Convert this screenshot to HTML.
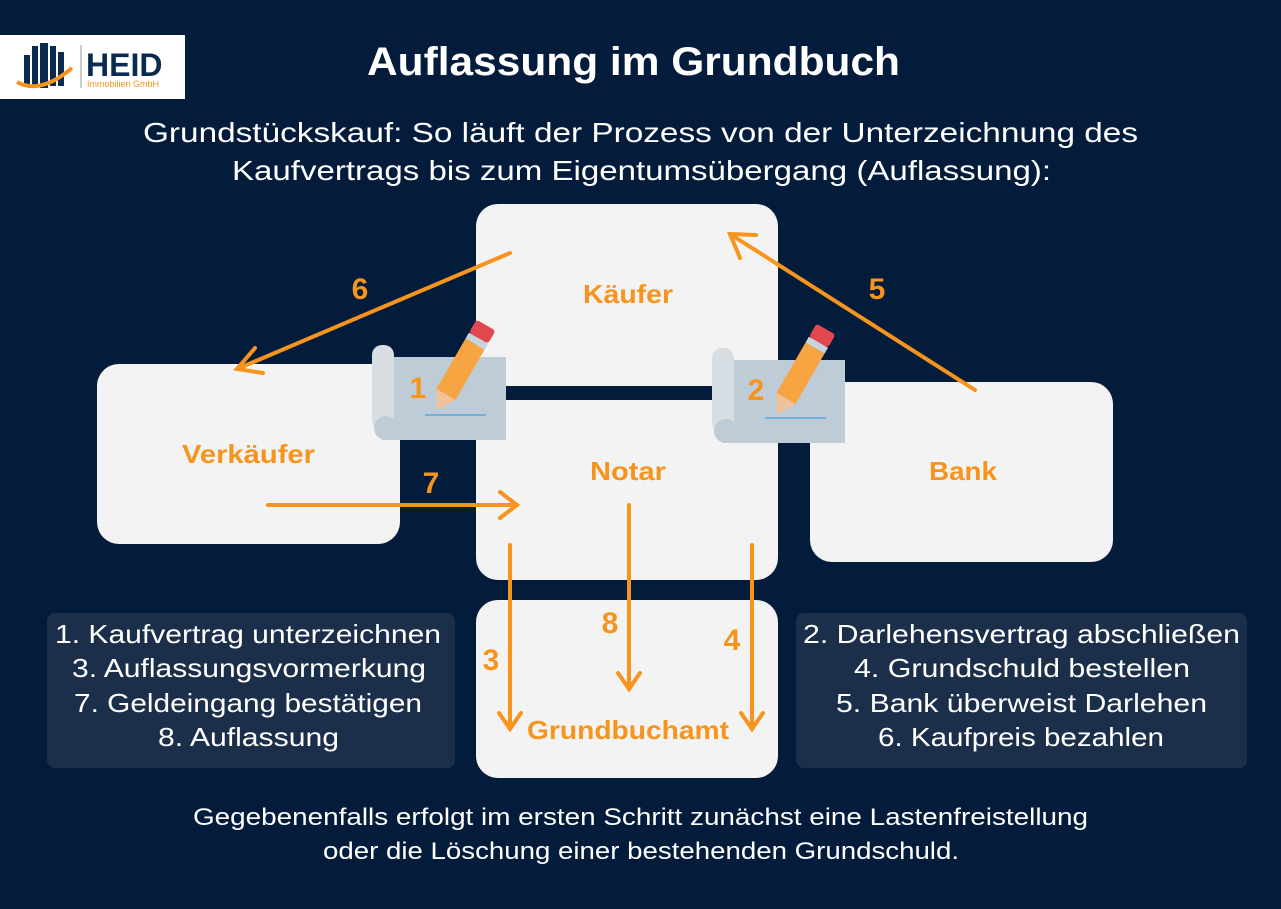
<!DOCTYPE html>
<html><head><meta charset="utf-8"><style>
body{margin:0;width:1281px;height:909px;background:#041c3c;overflow:hidden;font-family:"Liberation Sans",sans-serif}
</style></head><body>
<svg width="1281" height="909" xmlns="http://www.w3.org/2000/svg" style="position:absolute;left:0;top:0">
<rect width="1281" height="909" fill="#041c3c"/>
<!-- logo -->
<rect x="0" y="35" width="185" height="64" fill="#fff"/>
<g fill="#0b2a4f">
<rect x="24" y="55" width="6" height="30"/><rect x="32" y="46" width="6" height="40"/><rect x="40" y="43" width="8" height="45"/><rect x="50" y="46" width="6" height="40"/><rect x="58" y="52" width="6" height="34"/>
</g>
<path d="M17 82 Q40 95 72 68" stroke="#f7941d" stroke-width="4" fill="none"/>
<line x1="81" y1="45" x2="81" y2="88" stroke="#999" stroke-width="1"/>
<text x="86" y="76" font-size="32" font-weight="bold" fill="#0b2a4f">HEID</text>
<text x="87" y="87" font-size="9" fill="#f7941d">Immobilien GmbH</text>
<!-- titles -->
<text x="367" y="75" font-size="40" font-weight="bold" fill="#fff" textLength="533" lengthAdjust="spacingAndGlyphs">Auflassung im Grundbuch</text>
<text x="143" y="142" font-size="28" fill="#fff" textLength="995" lengthAdjust="spacingAndGlyphs">Grundstückskauf: So läuft der Prozess von der Unterzeichnung des</text>
<text x="232" y="180" font-size="28" fill="#fff" textLength="819" lengthAdjust="spacingAndGlyphs">Kaufvertrags bis zum Eigentumsübergang (Auflassung):</text>
<!-- boxes -->
<g fill="#f3f3f3">
<rect x="476" y="204" width="302" height="182" rx="22"/>
<rect x="476" y="400" width="302" height="180" rx="22"/>
<rect x="97" y="364" width="303" height="180" rx="22"/>
<rect x="810" y="382" width="303" height="180" rx="22"/>
<rect x="476" y="600" width="302" height="178" rx="22"/>
</g>
<rect x="47" y="613" width="408" height="155" rx="8" fill="#1c2f4a"/>
<rect x="796" y="613" width="451" height="155" rx="8" fill="#1c2f4a"/>
<g font-size="26" font-weight="bold" fill="#f7941d" lengthAdjust="spacingAndGlyphs">
<text x="583" y="303" textLength="90" lengthAdjust="spacingAndGlyphs">Käufer</text>
<text x="590" y="480" textLength="76" lengthAdjust="spacingAndGlyphs">Notar</text>
<text x="182" y="463" textLength="133" lengthAdjust="spacingAndGlyphs">Verkäufer</text>
<text x="929" y="480" textLength="68" lengthAdjust="spacingAndGlyphs">Bank</text>
<text x="527" y="739" textLength="202" lengthAdjust="spacingAndGlyphs">Grundbuchamt</text>
</g>
<!-- scrolls -->
<g>
<rect x="382" y="357" width="124" height="83" fill="#bdccd6"/>
<rect x="372" y="345" width="22" height="85" rx="10" fill="#d8dde2"/>
<circle cx="386" cy="428" r="12" fill="#bdccd6"/>
<line x1="425" y1="415" x2="486" y2="415" stroke="#6fb0dc" stroke-width="2"/>
<rect x="722" y="360" width="123" height="83" fill="#bdccd6"/>
<rect x="712" y="348" width="22" height="85" rx="10" fill="#d8dde2"/>
<circle cx="726" cy="431" r="12" fill="#bdccd6"/>
<line x1="765" y1="418" x2="826" y2="418" stroke="#6fb0dc" stroke-width="2"/>
</g>
<g font-size="30" font-weight="bold" fill="#f7941d" text-anchor="middle">
<text x="418" y="398">1</text><text x="756" y="400">2</text>
</g>
<!-- pencils -->
<g transform="translate(437,410) rotate(30)">
<polygon points="-11,-18 11,-18 0,0" fill="#f2c19a"/>
<rect x="-11" y="-76" width="22" height="58" fill="#f7a543"/>
<rect x="-11" y="-83" width="22" height="7" fill="#c8d3dc"/>
<rect x="-11" y="-98" width="22" height="15" rx="3" fill="#e2474e"/>
</g>
<g transform="translate(777,414) rotate(30)">
<polygon points="-11,-18 11,-18 0,0" fill="#f2c19a"/>
<rect x="-11" y="-76" width="22" height="58" fill="#f7a543"/>
<rect x="-11" y="-83" width="22" height="7" fill="#c8d3dc"/>
<rect x="-11" y="-98" width="22" height="15" rx="3" fill="#e2474e"/>
</g>
<!-- arrows -->
<g stroke="#f7941d" stroke-width="4" fill="none" stroke-linecap="round">
<line x1="510" y1="253" x2="237" y2="369"/><polyline points="255,348 237,369 263,373"/>
<line x1="975" y1="390" x2="730" y2="234"/><polyline points="740,258 730,234 756,235"/>
<line x1="268" y1="505" x2="517" y2="505"/><polyline points="500,492 517,505 500,518"/>
<line x1="510" y1="545" x2="510" y2="729"/><polyline points="499,713 510,729 521,713"/>
<line x1="629" y1="505" x2="629" y2="689"/><polyline points="618,673 629,689 640,673"/>
<line x1="752" y1="545" x2="752" y2="729"/><polyline points="741,713 752,729 763,713"/>
</g>
<g font-size="30" font-weight="bold" fill="#f7941d" text-anchor="middle">
<text x="360" y="299">6</text><text x="877" y="299">5</text><text x="431" y="493">7</text>
<text x="491" y="670">3</text><text x="610" y="633">8</text><text x="732" y="650">4</text>
</g>
<g font-size="26" fill="#fff">
<text x="55" y="643" textLength="386" lengthAdjust="spacingAndGlyphs">1. Kaufvertrag unterzeichnen</text>
<text x="72" y="677" textLength="354" lengthAdjust="spacingAndGlyphs">3. Auflassungsvormerkung</text>
<text x="74" y="712" textLength="348" lengthAdjust="spacingAndGlyphs">7. Geldeingang bestätigen</text>
<text x="158" y="746" textLength="181" lengthAdjust="spacingAndGlyphs">8. Auflassung</text>
<text x="803" y="643" textLength="437" lengthAdjust="spacingAndGlyphs">2. Darlehensvertrag abschließen</text>
<text x="854" y="677" textLength="336" lengthAdjust="spacingAndGlyphs">4. Grundschuld bestellen</text>
<text x="836" y="712" textLength="371" lengthAdjust="spacingAndGlyphs">5. Bank überweist Darlehen</text>
<text x="878" y="746" textLength="286" lengthAdjust="spacingAndGlyphs">6. Kaufpreis bezahlen</text>
</g>
<g font-size="24" fill="#fff">
<text x="193" y="825" textLength="895" lengthAdjust="spacingAndGlyphs">Gegebenenfalls erfolgt im ersten Schritt zunächst eine Lastenfreistellung</text>
<text x="323" y="859" textLength="636" lengthAdjust="spacingAndGlyphs">oder die Löschung einer bestehenden Grundschuld.</text>
</g>
</svg>
</body></html>
